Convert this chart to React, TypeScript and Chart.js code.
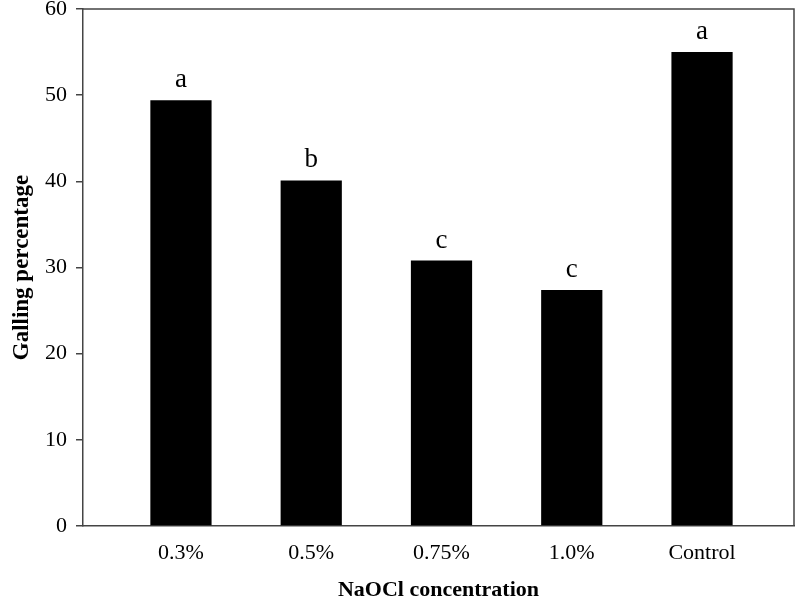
import React, { useEffect, useRef } from "react";
import { Chart, registerables } from "chart.js";

Chart.register(...registerables);

const categories = ["0.3%", "0.5%", "0.75%", "1.0%", "Control"];
const gallingValues = [49.4, 40.1, 30.8, 27.4, 55.0];
const significanceLetters = ["a", "b", "c", "c", "a"];
const yTicks = [0, 10, 20, 30, 40, 50, 60];

const FONT = '"Liberation Serif", "Times New Roman", serif';
const AXIS_COLOR = "#444";

const lettersPlugin = {
  id: "sigLetters",
  afterDatasetsDraw(chart: any) {
    const meta = chart.getDatasetMeta(0);
    const ctx = chart.ctx;
    ctx.save();
    ctx.font = `27px ${FONT}`;
    ctx.fillStyle = "#000";
    ctx.textAlign = "center";
    ctx.textBaseline = "alphabetic";
    meta.data.forEach((el: any, i: number) => {
      ctx.fillText(significanceLetters[i], el.x, el.y - 13);
    });
    ctx.restore();
  },
};

const framePlugin = {
  id: "frame",
  afterDraw(chart: any) {
    const { ctx, chartArea } = chart;
    ctx.save();
    ctx.strokeStyle = AXIS_COLOR;
    ctx.lineWidth = 1.5;
    ctx.beginPath();
    ctx.moveTo(chartArea.left, chartArea.top);
    ctx.lineTo(chartArea.right, chartArea.top);
    ctx.lineTo(chartArea.right, chartArea.bottom);
    ctx.stroke();
    ctx.restore();
  },
};

export default function App() {
  const canvasRef = useRef<HTMLCanvasElement | null>(null);

  useEffect(() => {
    if (!canvasRef.current) return;
    const chart = new Chart(canvasRef.current, {
      type: "bar",
      data: {
        datasets: [
          {
            data: gallingValues.map((v, i) => ({ x: i, y: v })),
            backgroundColor: "#000",
            borderWidth: 0,
            categoryPercentage: 1,
            barPercentage: 0.47,
          },
        ],
      },
      plugins: [lettersPlugin, framePlugin],
      options: {
        animation: false,
        responsive: true,
        maintainAspectRatio: false,
        layout: { padding: { top: 9, right: 6, left: 0, bottom: 0 } },
        plugins: {
          legend: { display: false },
          tooltip: { enabled: false },
        },
        scales: {
          x: {
            type: "linear",
            offset: false,
            min: -0.752,
            max: 4.706,
            afterFit: (scale: any) => {
              scale.height = 74;
              scale.paddingLeft = 0;
              scale.paddingRight = 0;
            },
            afterBuildTicks: (scale: any) => {
              scale.ticks = categories.map((_, i) => ({ value: i }));
            },
            ticks: {
              callback: (v: any) => categories[v as number] ?? "",
              color: "#000",
              font: { family: FONT, size: 22 },
              padding: 6,
              maxRotation: 0,
              autoSkip: false,
            },
            grid: { display: false },
            border: { display: true, color: AXIS_COLOR, width: 1.5 },
            title: {
              display: true,
              text: "NaOCl concentration",
              color: "#000",
              font: { family: FONT, size: 22, weight: "bold" },
              padding: { top: 0, bottom: -4 },
            },
          },
          y: {
            min: 0,
            max: 60,
            afterFit: (scale: any) => {
              scale.width = 83;
              scale.paddingTop = 0;
              scale.paddingBottom = 0;
            },
            afterBuildTicks: (scale: any) => {
              scale.ticks = yTicks.map((v) => ({ value: v }));
            },
            ticks: {
              color: "#000",
              font: { family: FONT, size: 22 },
              padding: 9,
            },
            grid: {
              drawOnChartArea: false,
              drawTicks: true,
              tickLength: 7,
              color: AXIS_COLOR,
              lineWidth: 1.5,
            },
            border: { display: true, color: AXIS_COLOR, width: 1.5 },
            title: {
              display: true,
              text: "Galling percentage",
              color: "#000",
              font: { family: FONT, size: 23, weight: "bold" },
              padding: { top: 8, bottom: 0 },
            },
          },
        },
      },
    } as any);
    return () => chart.destroy();
  }, []);

  return (
    <div style={{ position: "absolute", left: 0, top: 0, width: 800, height: 600, background: "#fff" }}>
      <canvas ref={canvasRef} />
    </div>
  );
}
